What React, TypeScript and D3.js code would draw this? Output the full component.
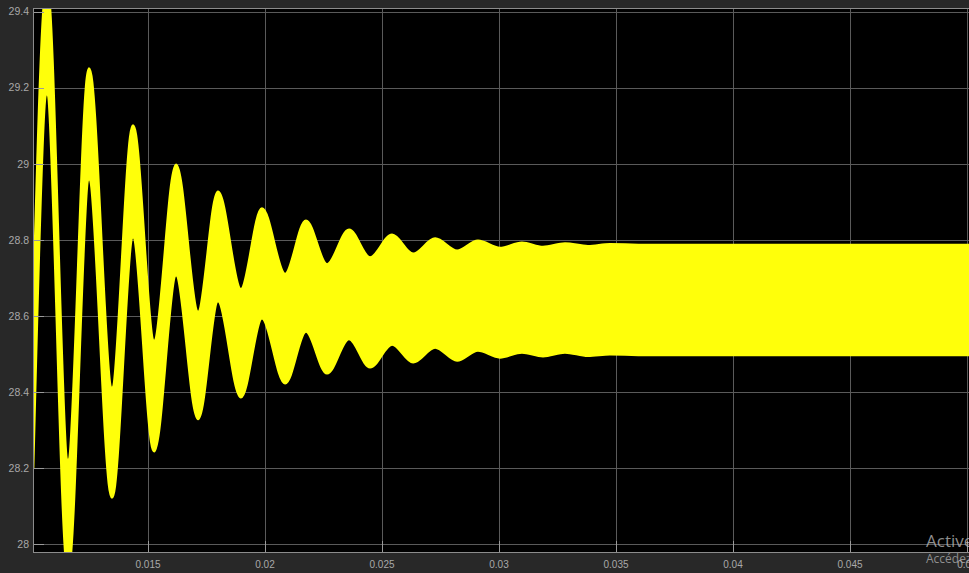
import React, { useEffect, useRef } from 'react';
import * as d3 from 'd3';

// time (s) of each turning point of the slow oscillation
const timeS = [
  0.01008, 0.01068, 0.01158, 0.01248, 0.01346, 0.01436, 0.01526, 0.0162, 0.01714, 0.01799,
  0.01897, 0.01987, 0.02086, 0.02175, 0.02265, 0.02359, 0.02449, 0.02543, 0.02633, 0.02727,
  0.02821, 0.0291, 0.03004, 0.03098, 0.03188, 0.03282, 0.0338, 0.03474, 0.0366, 0.04, 0.045, 0.0502,
];

// upper edge of the ripple band
const upperEnv = [
  28.56, 29.47, 28.22, 29.25, 28.41, 29.1, 28.534, 28.997, 28.61, 28.926,
  28.67, 28.882, 28.71, 28.85, 28.735, 28.826, 28.753, 28.813, 28.763, 28.803,
  28.771, 28.797, 28.778, 28.792, 28.781, 28.79, 28.783, 28.788, 28.786, 28.786, 28.786, 28.786,
];

// lower edge of the ripple band
const lowerEnv = [
  28.2, 29.184, 27.93, 28.96, 28.124, 28.808, 28.245, 28.708, 28.33, 28.64,
  28.387, 28.595, 28.424, 28.56, 28.45, 28.54, 28.466, 28.526, 28.479, 28.518,
  28.484, 28.51, 28.492, 28.505, 28.495, 28.505, 28.496, 28.5, 28.498, 28.498, 28.498, 28.498,
];

const xTicks = [0.015, 0.02, 0.025, 0.03, 0.035, 0.04, 0.045, 0.05];
const xTickLabels = ['0.015', '0.02', '0.025', '0.03', '0.035', '0.04', '0.045', '0.05'];
const yTicks = [28, 28.2, 28.4, 28.6, 28.8, 29, 29.2, 29.4];
const yTickLabels = ['28', '28.2', '28.4', '28.6', '28.8', '29', '29.2', '29.4'];

const W = 969;
const H = 573;
const plot = { left: 33, top: 8, right: 969, bottom: 552 };

const ScopeChart = () => {
  const svgRef = useRef<SVGSVGElement | null>(null);

  useEffect(() => {
    const svg = d3.select(svgRef.current);
    svg.selectAll('*').remove();

    const x = d3.scaleLinear().domain([0.010085, 0.050085]).range([plot.left, plot.right]);
    const y = d3.scaleLinear().domain([27.9798, 29.4097]).range([plot.bottom, plot.top]);

    svg.append('rect').attr('width', W).attr('height', H).attr('fill', '#282828');

    svg.append('defs').append('clipPath').attr('id', 'plot-clip')
      .append('rect')
      .attr('x', plot.left)
      .attr('y', plot.top)
      .attr('width', plot.right - plot.left)
      .attr('height', plot.bottom - plot.top);

    svg.append('rect')
      .attr('x', plot.left)
      .attr('y', plot.top)
      .attr('width', plot.right - plot.left)
      .attr('height', plot.bottom - plot.top)
      .attr('fill', '#000');

    // grid
    const grid = svg.append('g').attr('clip-path', 'url(#plot-clip)');
    grid.selectAll('.vgrid')
      .data(xTicks)
      .enter()
      .append('line')
      .attr('x1', d => Math.round(x(d)) + 0.5)
      .attr('x2', d => Math.round(x(d)) + 0.5)
      .attr('y1', plot.top)
      .attr('y2', plot.bottom)
      .attr('stroke', '#5a5a5a');
    grid.selectAll('.hgrid')
      .data(yTicks)
      .enter()
      .append('line')
      .attr('x1', plot.left)
      .attr('x2', plot.right)
      .attr('y1', d => Math.round(y(d)) + 0.5)
      .attr('y2', d => Math.round(y(d)) + 0.5)
      .attr('stroke', '#5a5a5a');

    // signal band
    const data = timeS.map((t, i) => ({ t, hi: upperEnv[i], lo: lowerEnv[i] }));
    const area = d3.area<{ t: number; hi: number; lo: number }>()
      .x(d => x(d.t))
      .y0(d => y(d.lo))
      .y1(d => y(d.hi))
      .curve(d3.curveMonotoneX);

    svg.append('g').attr('clip-path', 'url(#plot-clip)')
      .append('path')
      .datum(data)
      .attr('d', area)
      .attr('fill', '#ffff0a')
      .attr('stroke', '#ffff0a')
      .attr('stroke-width', 3)
      .attr('stroke-linejoin', 'round');

    // ticks (inside)
    const ticks = svg.append('g').attr('clip-path', 'url(#plot-clip)');
    ticks.selectAll('.xt')
      .data(xTicks)
      .enter()
      .append('line')
      .attr('x1', d => Math.round(x(d)) + 0.5)
      .attr('x2', d => Math.round(x(d)) + 0.5)
      .attr('y1', plot.bottom)
      .attr('y2', plot.bottom - 11)
      .attr('stroke', '#9a9a9a');
    ticks.selectAll('.yt')
      .data(yTicks)
      .enter()
      .append('line')
      .attr('x1', plot.left)
      .attr('x2', plot.left + 11)
      .attr('y1', d => Math.round(y(d)) + 0.5)
      .attr('y2', d => Math.round(y(d)) + 0.5)
      .attr('stroke', '#9a9a9a');

    // frame
    svg.append('rect')
      .attr('x', plot.left + 0.5)
      .attr('y', plot.top + 0.5)
      .attr('width', plot.right - plot.left + 2)
      .attr('height', plot.bottom - plot.top)
      .attr('fill', 'none')
      .attr('stroke', '#8c8c8c');

    // labels
    svg.selectAll('.xl')
      .data(xTicks)
      .enter()
      .append('text')
      .attr('x', d => x(d))
      .attr('y', 568)
      .attr('text-anchor', 'middle')
      .attr('font-family', '"Liberation Sans", Arial, sans-serif')
      .attr('font-size', 10)
      .attr('fill', '#a8a8a8')
      .text((d, i) => xTickLabels[i]);

    svg.selectAll('.yl')
      .data(yTicks)
      .enter()
      .append('text')
      .attr('x', 29)
      .attr('y', d => y(d))
      .attr('dy', '0.35em')
      .attr('text-anchor', 'end')
      .attr('font-family', '"Liberation Sans", Arial, sans-serif')
      .attr('font-size', 10.5)
      .attr('fill', '#a8a8a8')
      .text((d, i) => yTickLabels[i]);

    // windows watermark
    svg.append('text')
      .attr('x', 926)
      .attr('y', 547)
      .attr('font-family', '"Open Sans", "Noto Sans", sans-serif')
      .attr('font-size', 17)
      .attr('fill', 'rgba(190,190,190,0.75)')
      .text('Activer Windows');
    svg.append('text')
      .attr('x', 926)
      .attr('y', 563)
      .attr('font-family', '"Open Sans", "Noto Sans", sans-serif')
      .attr('font-size', 12)
      .attr('fill', 'rgba(190,190,190,0.7)')
      .text('Accédez aux paramètres pour activer Windows.');
  }, []);

  return (
    <svg
      ref={svgRef}
      width={W}
      height={H}
      style={{ position: 'fixed', left: 0, top: 0, display: 'block' }}
    />
  );
};

export default function App() {
  return <ScopeChart />;
}
